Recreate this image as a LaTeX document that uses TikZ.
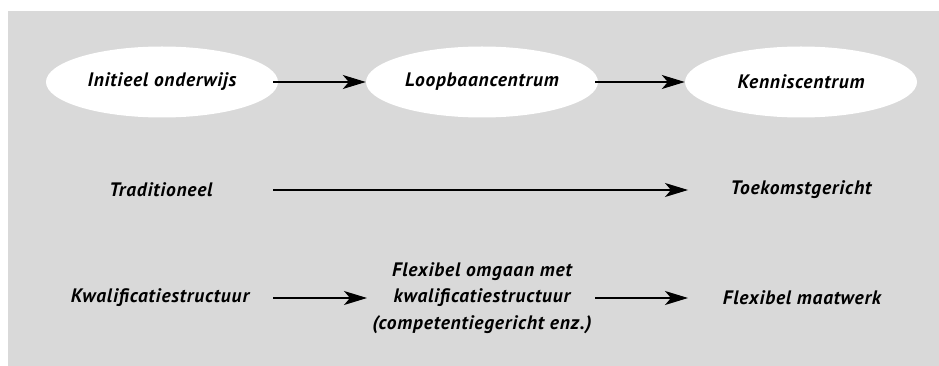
\documentclass[tikz,border=0pt]{standalone}
\usepackage{fontspec}
\setmainfont{PT Sans}[LetterSpace=4]
\usetikzlibrary{arrows.meta,shapes.geometric}
\begin{document}
\begin{tikzpicture}[x=1pt,y=-1pt,
  lbl/.style={font=\bfseries\itshape\fontsize{19.5}{26.5}\selectfont, align=center, inner sep=0pt},
  oval/.style={lbl, ellipse, fill=white, minimum width=232pt, minimum height=71pt},
  arr/.style={line width=1.2pt, -{Stealth[length=23pt,width=14pt,inset=6pt]}}]
\useasboundingbox (0,0) rectangle (939,366);
\fill[gray!30] (8,11) rectangle (939,366);
\node[oval] (a) at (162,82) {Initieel onderwijs};
\node[oval] (b) at (482,82) {Loopbaancentrum};
\node[oval] (c) at (801,82) {Kenniscentrum};
\draw[arr] (273,82) -- (b.west);
\draw[arr] (595,82) -- (c.west);
\node[lbl] (t) at (161,190) {Traditioneel};
\node[lbl] (k) at (801,190) {Toekomstgericht};
\coordinate (ts) at (273,190);
\coordinate (te) at (688,190);
\draw[arr] (ts) -- (te);
\node[lbl] (q) at (160,298) {Kwalificatiestructuur};
\node[lbl] (f) at (482,298) {Flexibel omgaan met\\kwalificatiestructuur\\(competentiegericht enz.)};
\node[lbl] (m) at (802,298) {Flexibel maatwerk};
\coordinate (q1) at (273,298);
\coordinate (q2) at (367,298);
\coordinate (f1) at (595,298);
\coordinate (f2) at (688,298);
\draw[arr] (q1) -- (q2);
\draw[arr] (f1) -- (f2);
\end{tikzpicture}
\end{document}
